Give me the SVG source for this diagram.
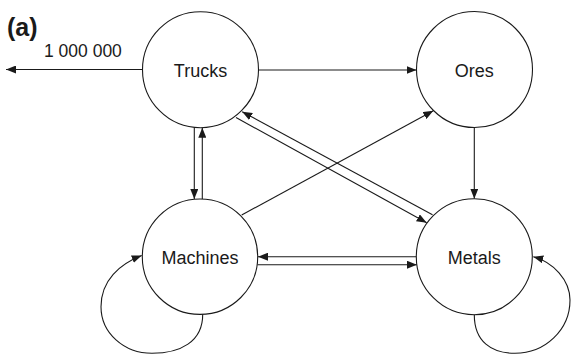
<svg xmlns="http://www.w3.org/2000/svg" width="571" height="354" viewBox="0 0 571 354">
  <style>
    .node circle { fill: #ffffff; stroke: #1a1a1a; stroke-width: 1.1; }
    .node text { font-family: "Liberation Sans", Arial, sans-serif; font-size: 18px; fill: #1a1a1a; text-anchor: middle; }
    .edges path { fill: none; stroke: #1a1a1a; stroke-width: 1.1; marker-end: url(#arrow); }
    .label { font-family: "Liberation Sans", Arial, sans-serif; fill: #1a1a1a; }
  </style>
  <defs>
    <marker id="arrow" markerUnits="userSpaceOnUse" markerWidth="10" markerHeight="8" refX="10" refY="4" orient="auto">
      <path d="M0,0 L10,4 L0,8 Z" fill="#1a1a1a"/>
    </marker>
  </defs>

  <rect width="571" height="354" fill="#ffffff"/>

  <text class="label" x="7" y="36" font-size="25" font-weight="bold">(a)</text>
  <text class="label" x="44" y="57.3" font-size="17.5">1 000 000</text>

  <!-- connectors -->
  <g id="connectors" class="edges">
    <path d="M142.7,69.5 L6,69.5"/>
    <path d="M258.5,70 L416.5,70"/>
    <path d="M474.3,127.5 L474.3,198.7"/>
    <path d="M194.3,127.4 L194.3,199"/>
    <path d="M202.3,199 L202.3,127.7"/>
    <path d="M416.3,256.7 L258,256.7"/>
    <path d="M257.4,264.7 L416.9,264.7"/>
    <path d="M432.5,214.7 L242.2,111.7"/>
    <path d="M236,117.5 L426.7,222.7"/>
    <path d="M241.7,215 L433.3,110.8"/>
    <!-- self loops -->
    <path d="M202.7,314 C203,342 180,353.3 152,353.3 C124,353.3 101,333 101,306.7 C101,280 120,264 141.7,255.5"/>
    <path d="M474.3,314 C474,342 492,353.3 515,353.3 C545,353.3 570,330 570,300 C570,280 553,262 533.3,256.7"/>
  </g>

  <g id="trucks" class="node">
    <circle cx="200.5" cy="69.7" r="58"/>
    <text x="200.5" y="77">Trucks</text>
  </g>
  <g id="ores" class="node">
    <circle cx="474.5" cy="69.5" r="58"/>
    <text x="474.3" y="77">Ores</text>
  </g>
  <g id="machines" class="node">
    <circle cx="200" cy="256.7" r="57.7"/>
    <text x="200" y="263.5">Machines</text>
  </g>
  <g id="metals" class="node">
    <circle cx="474.3" cy="256.7" r="58"/>
    <text x="474.3" y="263.8">Metals</text>
  </g>
</svg>
